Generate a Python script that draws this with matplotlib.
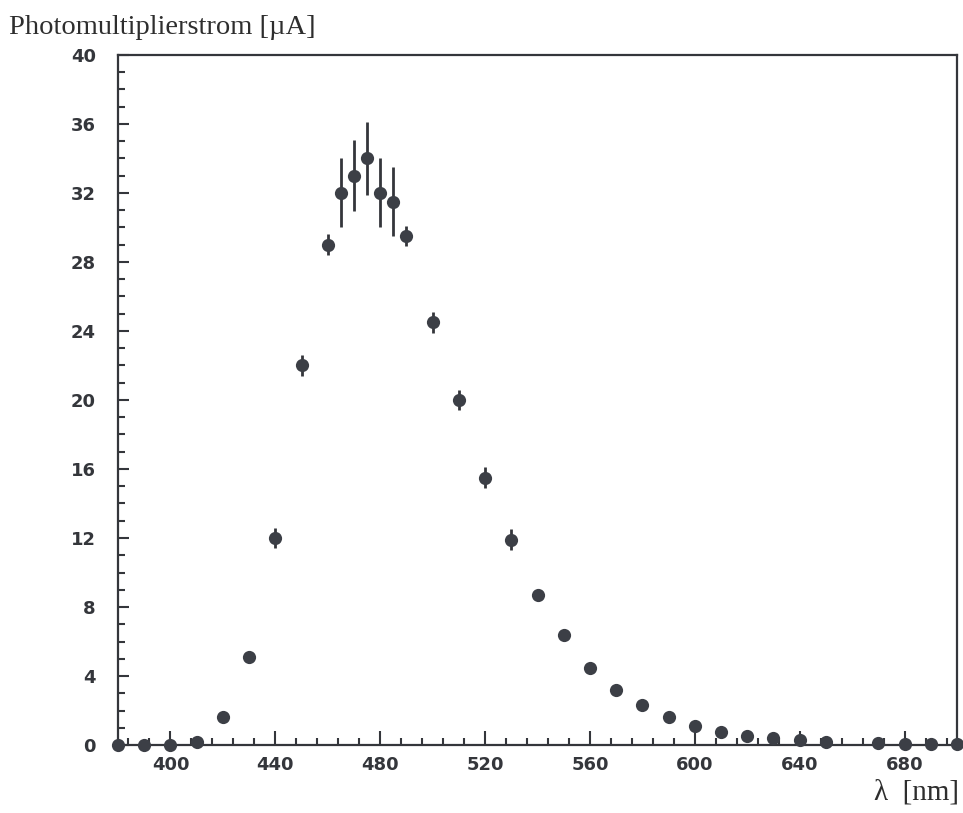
import matplotlib
matplotlib.use("Agg")
import matplotlib.pyplot as plt
from matplotlib.ticker import MultipleLocator
import numpy as np

# Wellenlaenge [nm] und Photomultiplierstrom [uA]
wavelength = [380, 390, 400, 410, 420, 430, 440, 450, 460, 465, 470, 475, 480,
              485, 490, 500, 510, 520, 530, 540, 550, 560, 570, 580, 590, 600,
              610, 620, 630, 640, 650, 670, 680, 690, 700]
current = [0.0, 0.0, 0.0, 0.2, 1.6, 5.1, 12.0, 22.0, 29.0, 32.0, 33.0, 34.0, 32.0,
           31.5, 29.5, 24.5, 20.0, 15.5, 11.9, 8.7, 6.35, 4.45, 3.2, 2.3, 1.6, 1.1,
           0.75, 0.5, 0.38, 0.28, 0.18, 0.1, 0.08, 0.06, 0.05]
error = [0, 0, 0, 0, 0, 0, 0.6, 0.6, 0.6, 2.0, 2.05, 2.1, 2.0,
         2.0, 0.6, 0.6, 0.6, 0.6, 0.6, 0, 0, 0, 0, 0, 0, 0,
         0, 0, 0, 0, 0, 0, 0, 0, 0]

x_ticks = [400, 440, 480, 520, 560, 600, 640, 680]
y_ticks = [0, 4, 8, 12, 16, 20, 24, 28, 32, 36, 40]

ink = "#34363b"
dot = "#3c3f46"

fig = plt.figure(figsize=(9.63, 8.13), dpi=100)
ax = fig.add_axes([118 / 963, 1 - 745 / 813, (957 - 118) / 963, (745 - 55) / 813])

x = np.array(wavelength)
y = np.array(current)
e = np.array(error)
has_err = e > 0
ax.errorbar(x[has_err], y[has_err], yerr=e[has_err], fmt="none",
            ecolor=ink, elinewidth=2.0, capsize=0, zorder=3)
ax.plot(x, y, "o", color=dot, markersize=9.5, markeredgewidth=0,
        zorder=4, clip_on=False)

ax.set_xlim(380, 700)
ax.set_ylim(0, 40)
ax.set_xticks(x_ticks)
ax.set_yticks(y_ticks)
ax.xaxis.set_minor_locator(MultipleLocator(8))
ax.yaxis.set_minor_locator(MultipleLocator(1))

for s in ax.spines.values():
    s.set_color(ink)
    s.set_linewidth(1.6)

ax.tick_params(axis="both", which="both", direction="in", color=ink,
               width=1.5, top=False, right=False)
ax.tick_params(axis="x", which="major", length=10, pad=8)
ax.tick_params(axis="x", which="minor", length=5)
ax.tick_params(axis="y", which="major", length=8, pad=16)
ax.tick_params(axis="y", which="minor", length=5)

for lab in ax.get_xticklabels() + ax.get_yticklabels():
    lab.set_fontfamily("DejaVu Sans")
    lab.set_fontweight("bold")
    lab.set_fontsize(13)
    lab.set_color(ink)

fig.text(9 / 963, 1 - 27 / 813, "Photomultiplierstrom [µA]",
         family="Liberation Serif", fontsize=20.5, color="#2e2e2e",
         ha="left", va="center")
fig.text(959 / 963, 1 - 792 / 813, "λ  [nm]",
         family="Liberation Serif", fontsize=21, color="#2e2e2e",
         ha="right", va="center")

fig.savefig("out.png", dpi=100)
